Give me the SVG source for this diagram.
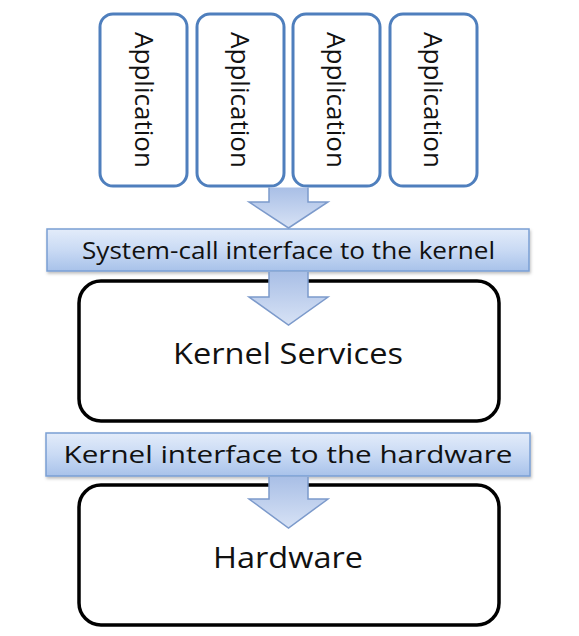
<svg xmlns="http://www.w3.org/2000/svg" width="579" height="636" viewBox="0 0 579 636">
<defs>
<linearGradient id="gArrow" x1="0" y1="0" x2="0" y2="1">
<stop offset="0" stop-color="#a9bfe6"/>
<stop offset="1" stop-color="#d7e2f5"/>
</linearGradient>
<linearGradient id="gBar" x1="0" y1="0" x2="0" y2="1">
<stop offset="0" stop-color="#e3ecfa"/>
<stop offset="0.5" stop-color="#c9daf4"/>
<stop offset="1" stop-color="#a8c2ea"/>
</linearGradient>
<filter id="sh" x="-5%" y="-30%" width="110%" height="160%">
<feDropShadow dx="1" dy="2" stdDeviation="1.5" flood-color="#000" flood-opacity="0.25"/>
</filter>
</defs>
<style>
.app{fill:#fff;stroke:#4f7fbd;stroke-width:3}
.big{fill:#fff;stroke:#000;stroke-width:3.5}
.bar{fill:url(#gBar);stroke:#7a9fd4;stroke-width:1.5}
.arrow{fill:url(#gArrow);stroke:#7c9acb;stroke-width:1.5}
.t{font-family:"Open Sans","Liberation Sans",sans-serif;fill:#111}
.vt{font-size:25px;text-anchor:middle}
.bt{font-size:24px;text-anchor:middle}
.kt{font-size:30px;text-anchor:middle}
</style>
<rect width="579" height="636" fill="#fff"/>
<g id="app1"><rect class="app" x="100" y="14" width="87" height="172" rx="13"/>
<text class="t vt" transform="translate(135,100) rotate(90)" textLength="136" lengthAdjust="spacingAndGlyphs">Application</text></g>
<g id="app2"><rect class="app" x="197" y="14" width="87" height="172" rx="13"/>
<text class="t vt" transform="translate(231,100) rotate(90)" textLength="136" lengthAdjust="spacingAndGlyphs">Application</text></g>
<g id="app3"><rect class="app" x="293" y="14" width="87" height="172" rx="13"/>
<text class="t vt" transform="translate(327,100) rotate(90)" textLength="136" lengthAdjust="spacingAndGlyphs">Application</text></g>
<g id="app4"><rect class="app" x="390" y="14" width="87" height="172" rx="13"/>
<text class="t vt" transform="translate(424,100) rotate(90)" textLength="136" lengthAdjust="spacingAndGlyphs">Application</text></g>
<g id="syscall"><rect class="bar" x="47" y="229" width="482" height="42" filter="url(#sh)"/>
<text class="t bt" x="288.5" y="259" textLength="413" lengthAdjust="spacingAndGlyphs">System-call interface to the kernel</text></g>
<g id="kernel"><rect class="big" x="79" y="281" width="420" height="140" rx="22"/>
<text class="t kt" x="288" y="364" textLength="230" lengthAdjust="spacingAndGlyphs">Kernel Services</text></g>
<g id="hwif"><rect class="bar" x="46" y="433" width="484" height="43" filter="url(#sh)"/>
<text class="t bt" x="288" y="463" textLength="449" lengthAdjust="spacingAndGlyphs">Kernel interface to the hardware</text></g>
<g id="hardware"><rect class="big" x="79" y="485" width="420" height="140" rx="22"/>
<text class="t kt" x="288" y="568" textLength="150" lengthAdjust="spacingAndGlyphs">Hardware</text></g>
<g id="connectors">
<path class="arrow" d="M269,187.5 V202 H249 L288.5,228 L328,202 H308 V187.5"/>
<path class="arrow" d="M269,272 V297 H249 L288.5,325 L328,297 H308 V272"/>
<path class="arrow" d="M269,477 V499 H249 L288.5,528 L328,499 H308 V477"/>
</g>
</svg>
